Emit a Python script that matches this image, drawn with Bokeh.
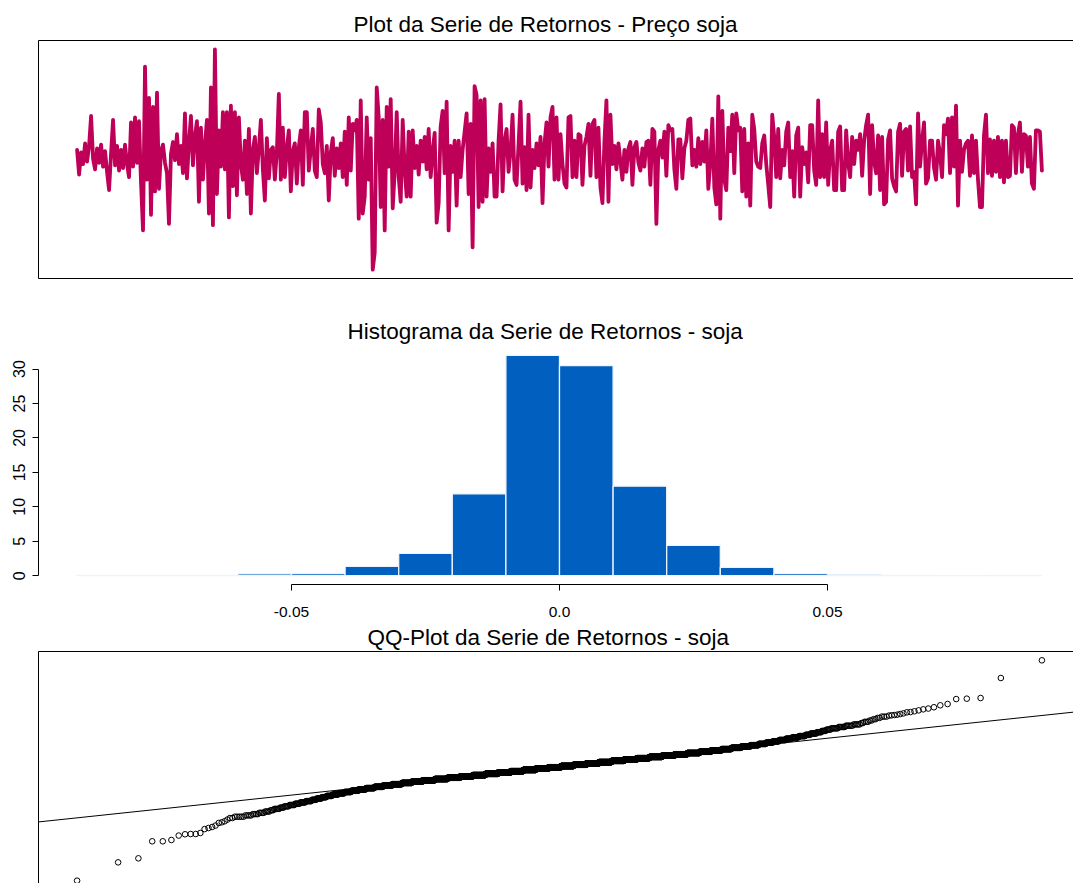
import numpy as np
from statistics import NormalDist
from bokeh.plotting import figure
from bokeh.layouts import column
from bokeh.models import Range1d, LinearAxis, FixedTicker, Slope
from bokeh.embed import file_html
from bokeh.resources import INLINE

# ---------------- data ----------------
# daily returns of soy price, in thousandths (read along the series, left to right)
retornos_milli = [
    5, -14, 3, -6, 10, -4, 8, 31, -2, -10,
    6, -5, 9, -8, 4, -12, -26, 2, 28, -7,
    8, -11, 5, -9, 9, -6, -16, 26, -8, 30,
    -5, 27, -20, -57, 69, -18, 45, -45, 38, -27,
    49, -25, 4, 9, -5, -13, -52, 2, 11, -3,
    17, -6, 8, -13, 33, -17, 10, 31, -7, 15,
    27, -35, 22, -18, 9, 28, -44, 53, -53, 82.3,
    -29, 20, -8, 34, -10, 34, -47, 39, -23, 34,
    -30, 30, -6, -18, 12, -29, 21, -44, 5, 15,
    -13, 6, 28, -10, -34, 14, -17, 5, 7, -18,
    3, 48, -18, 22, -16, 6, 20, -27, 4, 10,
    -21, 7, 20, -22, 34, 34, -11, 6, 21, -11,
    -16, 36,
    26, -6, -13, 8, -34, 3, 14, -15, 6, -9,
    10, -16, 19, -22, 30, -11, 25, 20, 28, -48,
    43, -44, -31, 30, -18, 14, -87.2, -74, 53, 30,
    -39, 28, -57, 38, -8, 44, -40, -12, 34, -16,
    -35, 28, -10, -31, 19, -31, 20, -9, 8, -14,
    12, -4, 15, -10, 21, -16, 4, 18, -51, -36,
    23, 35, -13, 42, -57, 8, -12, 12, -38, 12,
    -16, 5, 19, 33, -29, 25, -70, 54, 47, -39,
    43, -35, 44, -31, 6, -12, 10, -31, -31, 12,
    40, -27, 12, 21, -12, 4, 32, -18, -22, 9,
    42, -21, 7, -26, 32, -24, 5, -9, 10, -7,
    15, -36, 10, 26, -8, 30, 38, -18, 30, -18,
    17, -6, -21, -24, 30,
    31, -16, 12, -16, 17, 16, -22, 8, 15, 25,
    -15, 25, 28, -16, 22, -24, -36, 12, 43, -35,
    32, -6, 8, -10, 10, -4, -18, 5, -12, 6,
    11, -22, 7, 11, -5, -11, 6, -8, 11, 12,
    -22, 21, 19, -52, 5, 12, -1, 19, -15, 24,
    20, 21, -10, -25, 13, 13, -17, 6, 12, 28,
    29, -7, 5, -8, 14, -6, 11, -4, 20, -25,
    -5, 29, -24, -37, 46, -48, 35, -18, -26, 22,
    4, 32, -13, 33, 20, 22, -27, 21, -31, 10,
    -38, 32, 21, -4, -8, -9, 10, 16, -6, -22,
    -39, 32, 15, -16, 21, -17, 5, -7, 19, 26,
    -16, 4, -31, 16, 22, -31, 7, -6, 3, -20,
    24, 24, -11, -22, 43,
    -16, 17, -16, 26, -22, 5, 12, -26, -26, 19,
    23, -26, -26, 20, -5, -16, 15, -6, 12, 5,
    17, -15, 12, 24, 32, -29, 24, -4, -13, 16,
    -26, 15, -37, -35, 13, 20, -17, -23, -27, 19,
    25, -15, 19, 21, -11, 23, -16, -12, -37, 33,
    -8, 12, 26, -21, -17, 12, 12, -9, -18, 12,
    2, -16, 24, 17, 29, -13, 30, -8, 39, -38,
    12, -12, 5, 10, 12, -15, 16, -13, 12, -18,
    -39, -39, 16, 32, -13, 13, -15, 12, -12, 15,
    -16, 12, -20, 12, -16, -15, 24, 22, -13, 17,
    26, -12, 17, 16, -8, 15, -21, -25, 20, 20,
    19, -11,
]

# histogram (density) of the returns
hist_quebras = [-0.09, -0.08, -0.07, -0.06, -0.05, -0.04, -0.03, -0.02, -0.01, 0.0,
                0.01, 0.02, 0.03, 0.04, 0.05, 0.06, 0.07, 0.08, 0.09]
hist_densidade = [0.04, 0.04, 0.04, 0.28, 0.32, 1.35, 3.25, 11.9, 32.0, 30.5,
                  13.0, 4.4, 1.2, 0.3, 0.12, 0.04, 0.0, 0.04]
hist_ticks_x = [-0.05, 0.0, 0.05]
hist_rotulos_x = ["-0.05", "0.0", "0.05"]
hist_ticks_y = [0, 5, 10, 15, 20, 25, 30]

# sorted sample behind the QQ-plot (thousandths): isolated tail points + counts per level
qq_cauda_inf_milli = [-87.2, -73.1, -70.0, -56.9, -56.9, -55.9, -52.5, -51.5, -51.3, -51.3,
                      -50.5, -47.5, -46.7, -45.9, -44.8, -42.8, -42.3, -41.5, -40.2]
qq_niveis_milli = list(range(-39, 40))
qq_contagens = [2, 5, 4, 4, 4, 4, 3, 5, 4, 5,
                6, 6, 7, 8, 7, 8, 8, 10, 11, 13,
                15, 17, 19, 24, 26, 30, 35, 39, 45, 57,
                64, 68, 73, 78, 81, 85, 88, 90, 92, 92,
                92, 92, 89, 88, 84, 80, 77, 72, 67, 62,
                56, 47, 40, 34, 31, 26, 22, 18, 15, 13,
                13, 11, 11, 10, 7, 8, 6, 5, 5, 7,
                6, 6, 5, 2, 3, 2, 2, 2, 3]
qq_cauda_sup_milli = [39.8, 40.0, 40.2, 40.5, 41.0, 41.5, 42.3, 42.5, 43.1, 43.8,
                      44.6, 45.2, 46.2, 47.7, 48.7, 52.5, 52.8, 53.3, 68.7, 82.3]

titulo_serie = "Plot da Serie de Retornos - Preço soja"
titulo_hist = "Histograma da Serie de Retornos - soja"
titulo_qq = "QQ-Plot da Serie de Retornos - soja"

# ---------------- layout helpers ----------------
FONT = "Liberation Sans"
WIN_W = 1073
LEFT = 38
FRAME_W = WIN_W - LEFT
REGION_W = 1042      # width of the original plot region (it runs past the window)
REGION_H = 238
PAD = 0.04


def padded(lo, hi):
    s = hi - lo
    return lo - PAD * s, hi + PAD * s


def x_range_for(lo, hi):
    a, b = padded(lo, hi)
    return Range1d(a, a + (b - a) * FRAME_W / REGION_W)


def base_fig(height, top, bottom, x_range, y_range, title):
    p = figure(width=WIN_W, height=height, output_backend="svg", toolbar_location=None,
               x_range=x_range, y_range=y_range, x_axis_type=None, y_axis_type=None,
               min_border_left=LEFT, min_border_right=0, min_border_top=top,
               min_border_bottom=bottom, outline_line_color=None,
               background_fill_color="white", border_fill_color="white", title=title)
    p.grid.visible = False
    p.title.text_font = FONT
    p.title.text_font_size = "22.5px"
    p.title.text_font_style = "normal"
    p.title.text_color = "black"
    p.title.align = "left"
    return p


def border_axis(p, side):
    ax = LinearAxis(ticker=FixedTicker(ticks=[]), axis_line_color="black", axis_line_width=1,
                    major_tick_out=0, major_tick_in=0, minor_tick_out=0, minor_tick_in=0,
                    major_label_standoff=0, major_label_text_font_size="0px")
    p.add_layout(ax, side)
    return ax


# ---------------- panel 1: time series ----------------
ret = [v / 1000 for v in retornos_milli]
idx = list(range(1, len(ret) + 1))
p1 = base_fig(305, 40, 27, x_range_for(1, len(ret)), Range1d(*padded(min(ret), max(ret))),
              titulo_serie)
p1.title.offset = 353 - LEFT
p1.title.standoff = 8
p1.line(idx, ret, line_color="#BE0058", line_width=3.8, line_join="round", line_cap="round")
for side in ("left", "above", "below"):
    border_axis(p1, side)

# ---------------- panel 2: histogram ----------------
p2 = base_fig(315, 41, 36, x_range_for(hist_quebras[0], hist_quebras[-1]),
              Range1d(*padded(0, max(hist_densidade))), titulo_hist)
p2.title.offset = 347 - LEFT
p2.title.standoff = 6
p2.quad(left=hist_quebras[:-1], right=hist_quebras[1:], bottom=0, top=hist_densidade,
        fill_color="#005FBF", line_color="#EEF4FB", line_width=1.3)

yax = LinearAxis(ticker=FixedTicker(ticks=hist_ticks_y), bounds=(hist_ticks_y[0], hist_ticks_y[-1]),
                 major_label_orientation="vertical", axis_line_color="black", axis_line_width=1,
                 major_tick_line_color="black", major_tick_out=6, major_tick_in=0,
                 minor_tick_out=0, minor_tick_in=0, major_label_standoff=7,
                 major_label_text_font=FONT, major_label_text_font_size="16px",
                 major_label_text_color="black")
p2.add_layout(yax, "left")
xax = LinearAxis(ticker=FixedTicker(ticks=hist_ticks_x), bounds=(hist_ticks_x[0], hist_ticks_x[-1]),
                 major_label_overrides=dict(zip(hist_ticks_x, hist_rotulos_x)),
                 axis_line_color="black", axis_line_width=1,
                 major_tick_line_color="black", major_tick_out=6, major_tick_in=0,
                 minor_tick_out=0, minor_tick_in=0, major_label_standoff=16,
                 major_label_text_font=FONT, major_label_text_font_size="15.5px",
                 major_label_text_color="black")
p2.add_layout(xax, "below")

# ---------------- panel 3: QQ-plot ----------------
amostra_milli = list(qq_cauda_inf_milli)
for nivel, cont in zip(qq_niveis_milli, qq_contagens):
    amostra_milli.extend([nivel] * cont)
amostra_milli.extend(qq_cauda_sup_milli)
amostra = np.sort(np.array(amostra_milli, dtype=float)) / 1000
n = len(amostra)
nd = NormalDist()
teorico = np.array([nd.inv_cdf((i + 0.5) / n) for i in range(n)])

ylo3, yhi3 = padded(amostra[0], amostra[-1])
FRAME_H3 = 232
p3 = base_fig(263, 31, 0, x_range_for(teorico[0], teorico[-1]),
              Range1d(yhi3 - (yhi3 - ylo3) * FRAME_H3 / REGION_H, yhi3), titulo_qq)
p3.title.offset = 367 - LEFT
p3.title.standoff = 4
p3.scatter(teorico, amostra, marker="circle", size=5.6, fill_color=None,
           line_color="black", line_width=1)
q1, q3 = np.quantile(amostra, [0.25, 0.75])
z1, z3 = nd.inv_cdf(0.25), nd.inv_cdf(0.75)
grad = (q3 - q1) / (z3 - z1)
p3.add_layout(Slope(gradient=grad, y_intercept=q1 - grad * z1, line_color="black", line_width=1))
for side in ("left", "above"):
    border_axis(p3, side)

layout = column(p1, p2, p3)
open("out.html", "w").write(file_html(layout, INLINE))
